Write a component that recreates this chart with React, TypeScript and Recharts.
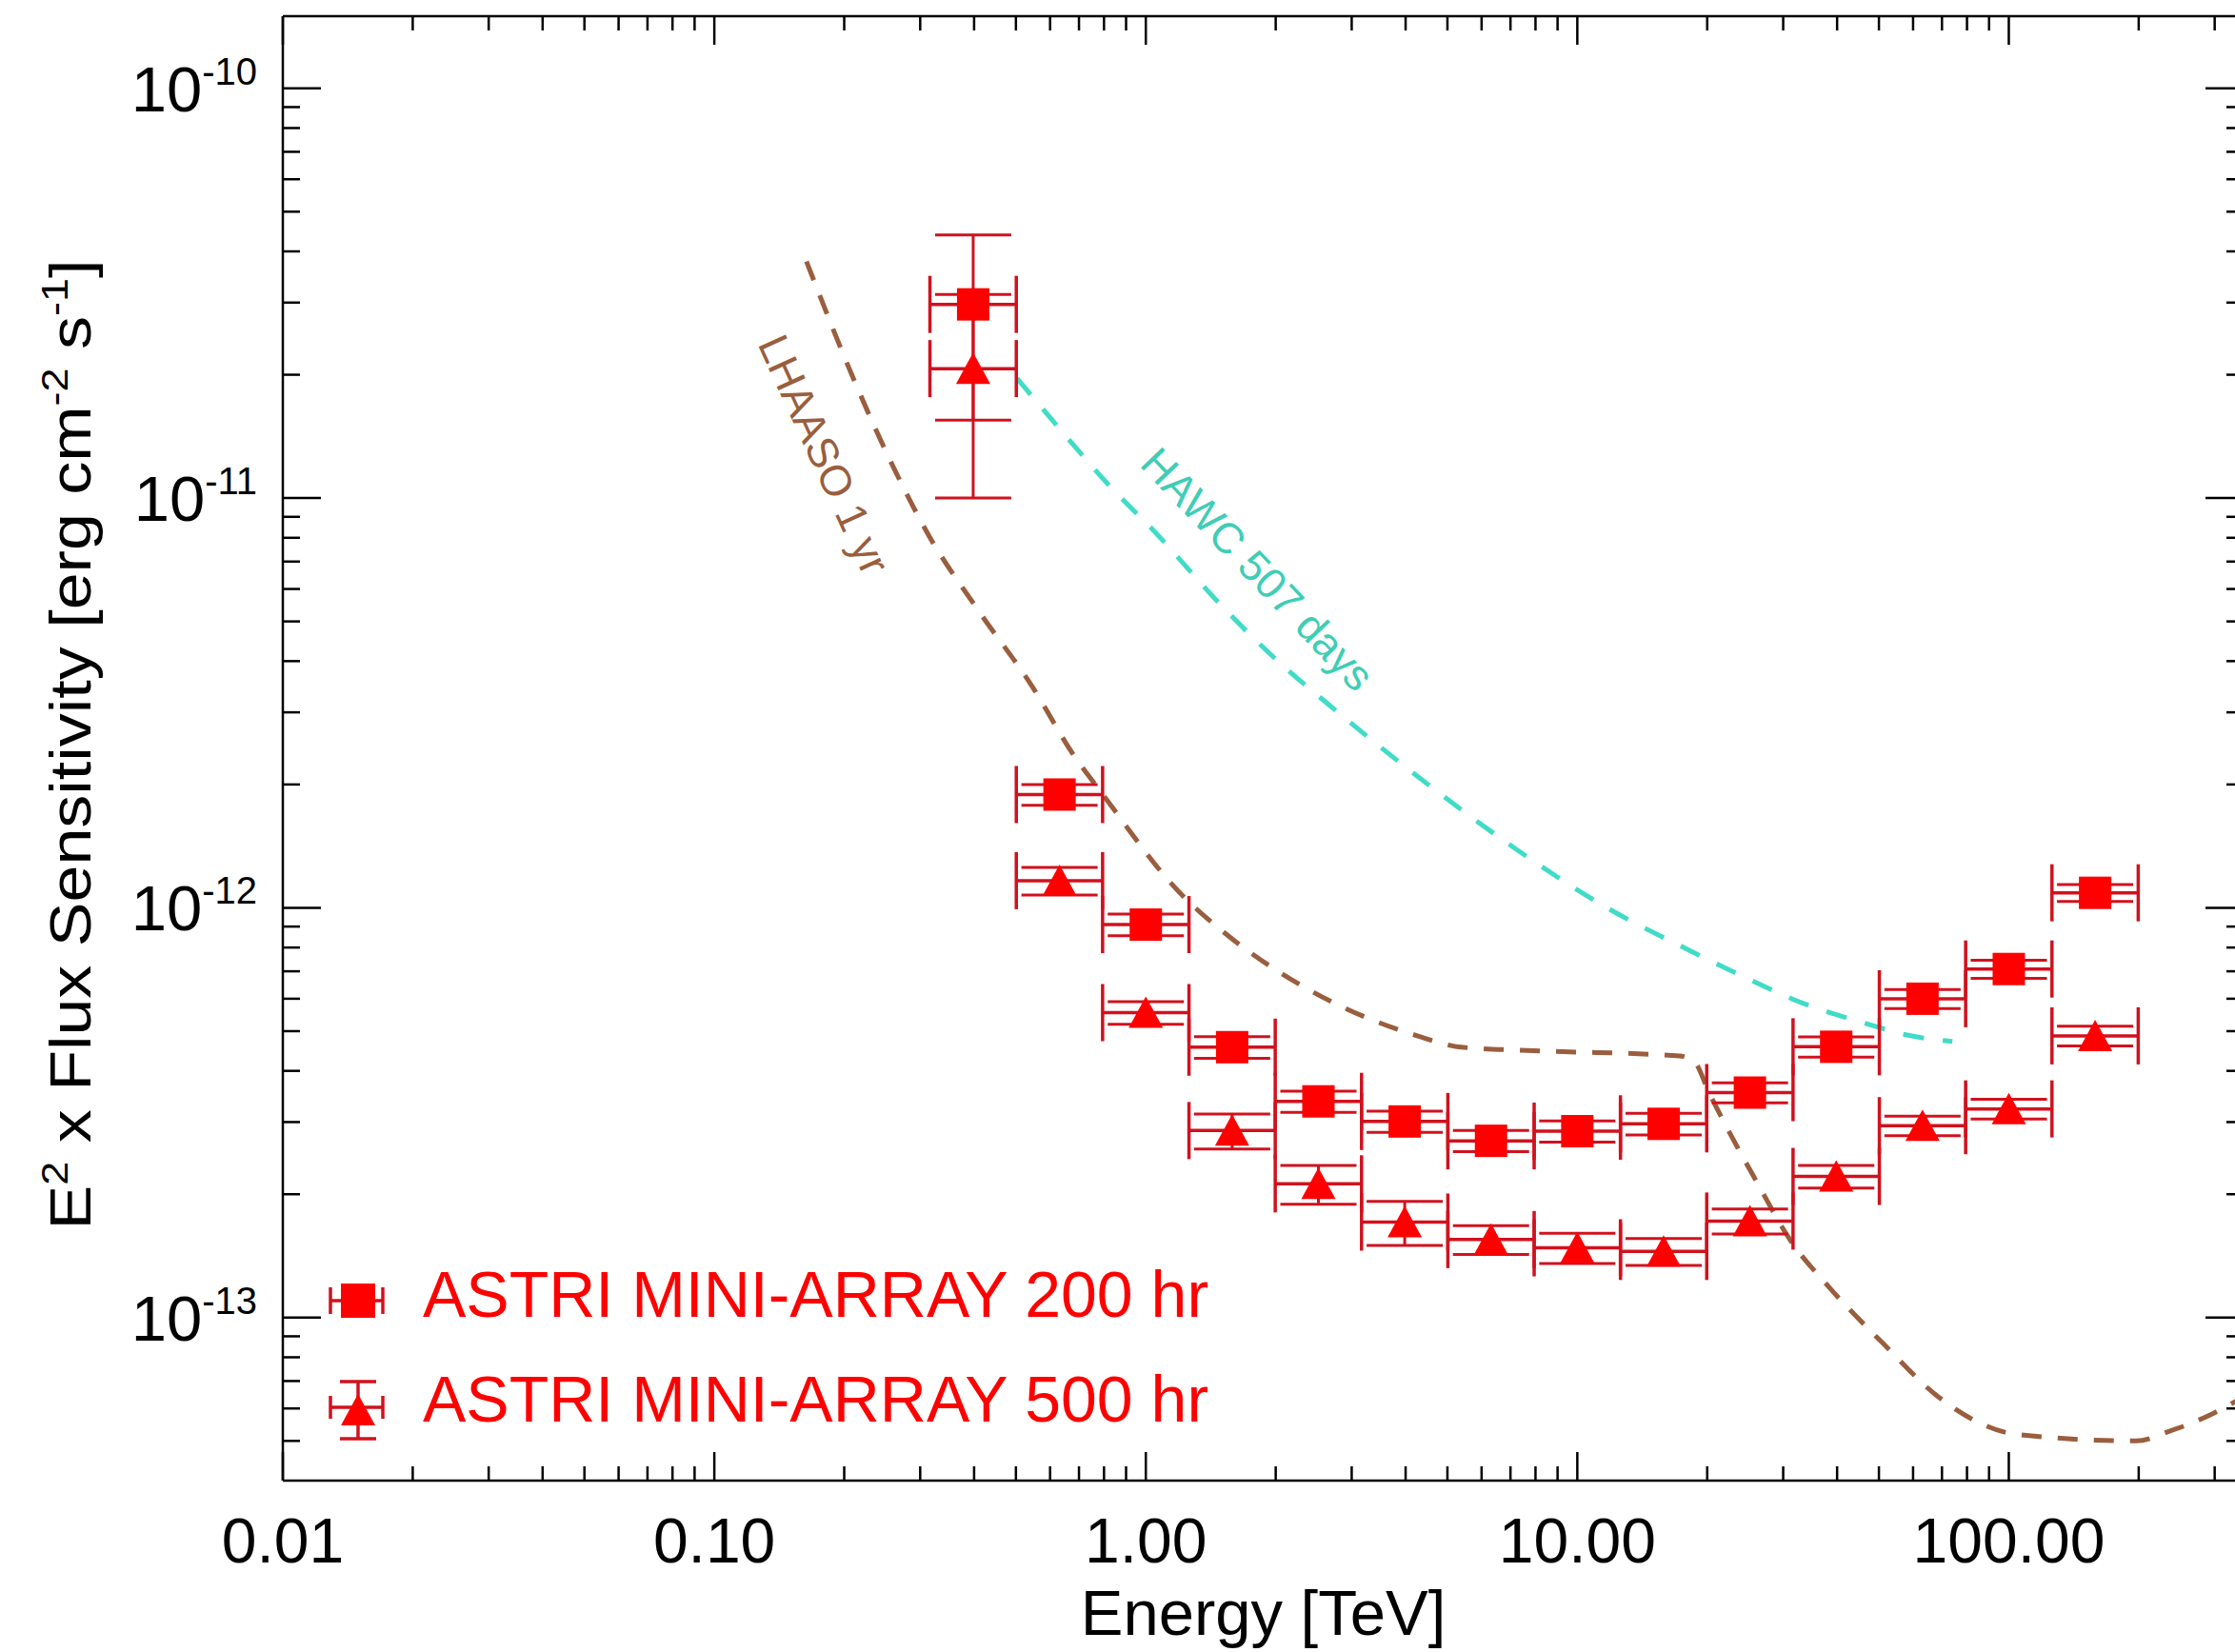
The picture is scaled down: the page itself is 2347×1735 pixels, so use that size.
import React from "react";
import { ComposedChart, Line, Scatter, XAxis, YAxis, ErrorBar, ReferenceLine, ReferenceDot, Legend } from "recharts";

const FONT = "'Liberation Sans', Arial, Helvetica, sans-serif";
const CHART_W = 2380;
const CHART_H = 1735;
const PLOT_TOP = 17;
const PLOT_RIGHT = 2356;
const RED = "#ff0000";
const BAR_RED = "#d0121e";
const BROWN = "#9a5e3e";
const TURQ = "#40dcc8";

// energy bins [TeV], 0.2 dex wide
const binCenters = [0.398, 0.631, 1.0, 1.585, 2.512, 3.981, 6.31, 10, 15.85, 25.12, 39.81, 63.1, 100, 158.5];
const binEdges = [0.316, 0.501, 0.794, 1.259, 1.995, 3.162, 5.012, 7.943, 12.59, 19.95, 31.62, 50.12, 79.43, 125.9, 199.5];

// ASTRI mini-array sensitivity [erg cm^-2 s^-1]
const astri200 = [2.97e-11, 1.89e-12, 9.1e-13, 4.57e-13, 3.37e-13, 3.01e-13, 2.7e-13, 2.85e-13, 2.97e-13, 3.54e-13, 4.58e-13, 6.0e-13, 7.09e-13, 1.088e-12];
const astri200Err = [1.42e-11, 1.1e-13, 5.5e-14, 2.8e-14, 2e-14, 1.8e-14, 1.6e-14, 1.7e-14, 1.8e-14, 2e-14, 2.6e-14, 3.2e-14, 3.6e-14, 5.2e-14];
const astri500 = [2.07e-11, 1.165e-12, 5.55e-13, 2.86e-13, 2.12e-13, 1.71e-13, 1.55e-13, 1.48e-13, 1.45e-13, 1.72e-13, 2.21e-13, 2.94e-13, 3.23e-13, 4.87e-13];
const astri500Err = [1.07e-11, 9e-14, 3.5e-14, 2.8e-14, 2.3e-14, 2.1e-14, 1.25e-14, 1.25e-14, 1.1e-14, 1.2e-14, 1.4e-14, 1.6e-14, 1.8e-14, 2.7e-14];

// LHAASO 1 yr curve
const lhaasoEnergy = [0.1635, 0.214, 0.26, 0.3146, 0.4065, 0.5443, 0.6875, 0.7805, 1.197, 1.592, 2.285, 4.155, 5.383, 7.93, 17.26, 18.68, 20.2, 26.2, 31.1, 38.5, 51.1, 67.96, 84.1, 104, 197.5, 235.8, 292.1, 350];
const lhaasoSens = [3.78e-11, 1.87e-11, 1.19e-11, 8.08e-12, 5.37e-12, 3.48e-12, 2.32e-12, 1.94e-12, 1.09e-12, 8.37e-13, 6.48e-13, 4.91e-13, 4.57e-13, 4.48e-13, 4.35e-13, 4.21e-13, 3.54e-13, 2.12e-13, 1.55e-13, 1.18e-13, 8.65e-14, 6.46e-14, 5.58e-14, 5.19e-14, 5.0e-14, 5.28e-14, 5.78e-14, 6.4e-14];

// HAWC 507 days curve
const hawcEnergy = [0.503, 0.6875, 0.802, 1.07, 1.451, 1.968, 2.81, 4.375, 6.976, 11.72, 18.2, 26.7, 31.6, 46.6, 57.7, 74];
const hawcSens = [1.96e-11, 1.33e-11, 1.105e-11, 8.09e-12, 5.66e-12, 4.11e-12, 2.98e-12, 2.05e-12, 1.425e-12, 1.0e-12, 7.87e-13, 6.48e-13, 5.98e-13, 5.22e-13, 4.9e-13, 4.72e-13];

// axes
const X_DOMAIN = [0.01, 350];
const Y_DOMAIN = [4e-14, 1.5e-10];
const xMajorTicks = [0.01, 0.1, 1, 10, 100];
const xMajorLabels = ["0.01", "0.10", "1.00", "10.00", "100.00"];
const xMinorTicks = [
  0.02, 0.03, 0.04, 0.05, 0.06, 0.07, 0.08, 0.09,
  0.2, 0.3, 0.4, 0.5, 0.6, 0.7, 0.8, 0.9,
  2, 3, 4, 5, 6, 7, 8, 9,
  20, 30, 40, 50, 60, 70, 80, 90,
  200, 300,
];
const yMajorTicks = [1e-13, 1e-12, 1e-11, 1e-10];
const yMajorExp = ["-13", "-12", "-11", "-10"];
const yMinorTicks = [
  5e-14, 6e-14, 7e-14, 8e-14, 9e-14,
  2e-13, 3e-13, 4e-13, 5e-13, 6e-13, 7e-13, 8e-13, 9e-13,
  2e-12, 3e-12, 4e-12, 5e-12, 6e-12, 7e-12, 8e-12, 9e-12,
  2e-11, 3e-11, 4e-11, 5e-11, 6e-11, 7e-11, 8e-11, 9e-11,
];

// curve annotations (placed in data coordinates)
const notes = [
  { text: "LHAASO 1 yr", e: 0.1795, f: 1.277e-11, rot: 65.5, color: BROWN },
  { text: "HAWC 507 days", e: 1.816, f: 6.7e-12, rot: 46.5, color: "#3fcdb6" },
];

const binTable = (vals: number[], errs: number[]) =>
  binCenters.map((e, i) => ({ e, f: vals[i], ex: [e - binEdges[i], binEdges[i + 1] - e], ey: errs[i] }));
const curveTable = (es: number[], fs: number[]) => es.map((e, i) => ({ e, f: fs[i] }));

const data200 = binTable(astri200, astri200Err);
const data500 = binTable(astri500, astri500Err);
const lhaasoData = curveTable(lhaasoEnergy, lhaasoSens);
const hawcData = curveTable(hawcEnergy, hawcSens);

const XTick = (props: any) => {
  const { x, y, payload } = props;
  const idx = xMajorTicks.indexOf(payload.value);
  const len = idx >= 0 ? 30 : 15;
  return (
    <g>
      <line x1={x} x2={x} y1={y} y2={y - len} stroke="#000" strokeWidth={2.5} />
      <line x1={x} x2={x} y1={PLOT_TOP} y2={PLOT_TOP + len} stroke="#000" strokeWidth={2.5} />
      {idx >= 0 && (
        <text x={x} y={y + 86} textAnchor="middle" fontSize={66} fontFamily={FONT} fill="#000">
          {xMajorLabels[idx]}
        </text>
      )}
    </g>
  );
};

const YTick = (props: any) => {
  const { x, y, payload } = props;
  const idx = yMajorTicks.indexOf(payload.value);
  const len = idx >= 0 ? 40 : 18;
  return (
    <g>
      <line x1={x} x2={x + len} y1={y} y2={y} stroke="#000" strokeWidth={2.5} />
      <line x1={PLOT_RIGHT - len} x2={PLOT_RIGHT} y1={y} y2={y} stroke="#000" strokeWidth={2.5} />
      {idx >= 0 && (
        <text x={x - 27} y={y + 24} textAnchor="end" fontSize={67} fontFamily={FONT} fill="#000">
          <tspan>10</tspan>
          <tspan dy={-28} fontSize={40}>{yMajorExp[idx]}</tspan>
        </text>
      )}
    </g>
  );
};

const XTitle = (props: any) => {
  const vb = props.viewBox;
  return (
    <text x={vb.x + vb.width / 2} y={vb.y + 162} textAnchor="middle" fontSize={67} fontFamily={FONT} fill="#000">
      Energy [TeV]
    </text>
  );
};

const YTitle = (props: any) => {
  const vb = props.viewBox;
  const cx = 95;
  const cy = vb.y + vb.height / 2 - 4;
  return (
    <g transform={`translate(${cx} ${cy}) rotate(-90) scale(1 0.86)`}>
      <text x={0} y={0} textAnchor="middle" fontSize={70} fontFamily={FONT} fill="#000" style={{ whiteSpace: "pre" }}>
        <tspan>E</tspan>
        <tspan dy={-28} fontSize={45}>2</tspan>
        <tspan dy={28}> x Flux Sensitivity [erg cm</tspan>
        <tspan dy={-28} fontSize={45}>-2</tspan>
        <tspan dy={28}> s</tspan>
        <tspan dy={-28} fontSize={45}>-1</tspan>
        <tspan dy={28}>]</tspan>
      </text>
    </g>
  );
};

const CurveNote = (props: any) => {
  const { viewBox, text, rot, color } = props;
  const cx = viewBox.x + viewBox.width / 2;
  const cy = viewBox.y + viewBox.height / 2;
  return (
    <g transform={`translate(${cx} ${cy}) rotate(${rot})`}>
      <text x={0} y={0} textAnchor="middle" dominantBaseline="central" fontSize={45} fontFamily={FONT} fill={color}>
        {text}
      </text>
    </g>
  );
};

const Square = (props: any) => {
  const { cx, cy } = props;
  return <rect x={cx - 17} y={cy - 17} width={34} height={34} fill={RED} />;
};

const Triangle = (props: any) => {
  const { cx, cy } = props;
  return <polygon points={`${cx - 18},${cy + 16} ${cx},${cy - 17} ${cx + 18},${cy + 16}`} fill={RED} />;
};

const NoMark = () => <g />;

const LegendBox = () => (
  <svg width={900} height={210} style={{ display: "block", overflow: "visible" }}>
    {/* 200 hr */}
    <line x1={17} x2={72} y1={46} y2={46} stroke={BAR_RED} strokeWidth={3.5} />
    <line x1={17} x2={17} y1={32} y2={60} stroke={BAR_RED} strokeWidth={3.5} />
    <line x1={72} x2={72} y1={32} y2={60} stroke={BAR_RED} strokeWidth={3.5} />
    <rect x={28} y={28} width={36} height={36} fill={RED} />
    <text x={114} y={63} fontSize={68} fontFamily={FONT} fill={RED}>ASTRI MINI-ARRAY 200 hr</text>
    {/* 500 hr */}
    <line x1={17} x2={72} y1={158} y2={158} stroke={BAR_RED} strokeWidth={3.5} />
    <line x1={17} x2={17} y1={146} y2={170} stroke={BAR_RED} strokeWidth={3.5} />
    <line x1={72} x2={72} y1={146} y2={170} stroke={BAR_RED} strokeWidth={3.5} />
    <line x1={46} x2={46} y1={131} y2={191} stroke={BAR_RED} strokeWidth={3.5} />
    <line x1={27} x2={65} y1={131} y2={131} stroke={BAR_RED} strokeWidth={3.5} />
    <line x1={27} x2={65} y1={191} y2={191} stroke={BAR_RED} strokeWidth={3.5} />
    <polygon points="28,177 46,144 64,177" fill={RED} />
    <text x={114} y={173} fontSize={68} fontFamily={FONT} fill={RED}>ASTRI MINI-ARRAY 500 hr</text>
  </svg>
);

export default function App() {
  return (
    <div style={{ width: CHART_W, height: CHART_H, background: "#fff" }}>
      <style>{"body{margin:0;overflow:hidden;background:#fff}"}</style>
      <ComposedChart width={CHART_W} height={CHART_H} margin={{ top: PLOT_TOP, right: CHART_W - PLOT_RIGHT, bottom: 0, left: 0 }}>
        <XAxis
          dataKey="e"
          type="number"
          scale="log"
          domain={X_DOMAIN}
          allowDataOverflow
          ticks={[...xMajorTicks, ...xMinorTicks]}
          interval={0}
          tick={<XTick />}
          tickLine={false}
          tickSize={0}
          tickMargin={0}
          height={180}
          axisLine={{ stroke: "#000", strokeWidth: 2.5 }}
          label={<XTitle />}
        />
        <YAxis
          type="number"
          scale="log"
          domain={Y_DOMAIN}
          allowDataOverflow
          ticks={[...yMajorTicks, ...yMinorTicks]}
          interval={0}
          tick={<YTick />}
          tickLine={false}
          tickSize={0}
          tickMargin={0}
          width={297}
          axisLine={{ stroke: "#000", strokeWidth: 2.5 }}
          label={<YTitle />}
        />
        <ReferenceLine y={Y_DOMAIN[1]} stroke="#000" strokeWidth={2.5} />
        <ReferenceLine x={X_DOMAIN[1]} stroke="#000" strokeWidth={2.5} />
        <Line data={lhaasoData} dataKey="f" type="monotone" stroke={BROWN} strokeWidth={5} strokeDasharray="21 17" dot={false} activeDot={false} isAnimationActive={false} />
        <Line data={hawcData} dataKey="f" type="monotone" stroke={TURQ} strokeWidth={5} strokeDasharray="22 20" dot={false} activeDot={false} isAnimationActive={false} />
        {/* error bars first, markers drawn on top */}
        <Scatter data={data500} dataKey="f" shape={<NoMark />} isAnimationActive={false}>
          <ErrorBar dataKey="ex" direction="x" width={30} stroke={BAR_RED} strokeWidth={3.5} />
          <ErrorBar dataKey="ey" direction="y" width={40} stroke={BAR_RED} strokeWidth={3} />
        </Scatter>
        <Scatter data={data200} dataKey="f" shape={<NoMark />} isAnimationActive={false}>
          <ErrorBar dataKey="ex" direction="x" width={30} stroke={BAR_RED} strokeWidth={3.5} />
          <ErrorBar dataKey="ey" direction="y" width={40} stroke={BAR_RED} strokeWidth={3} />
        </Scatter>
        <Scatter data={data500} dataKey="f" shape={<Triangle />} isAnimationActive={false} />
        <Scatter data={data200} dataKey="f" shape={<Square />} isAnimationActive={false} />
        {notes.map((n) => (
          <ReferenceDot key={n.text} x={n.e} y={n.f} r={1} fill="none" stroke="none" label={<CurveNote text={n.text} rot={n.rot} color={n.color} />} />
        ))}
        <Legend layout="vertical" align="center" verticalAlign="middle" content={<LegendBox />} wrapperStyle={{ left: 330, top: 1320, width: 900, height: 210 }} />
      </ComposedChart>
    </div>
  );
}
